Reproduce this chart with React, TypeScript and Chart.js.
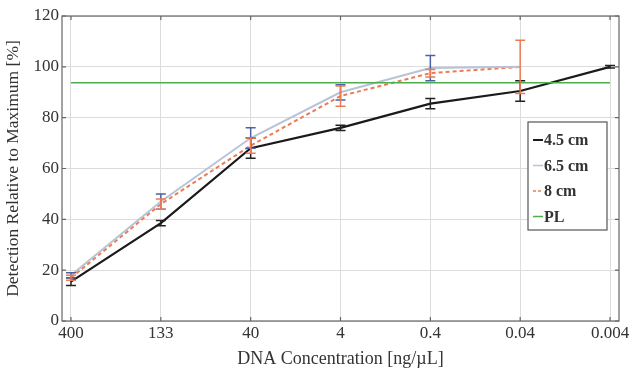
import React, { useEffect, useRef } from "react";
import { Chart, registerables } from "chart.js";

Chart.register(...registerables);

const categories = ["400", "133", "40", "4", "0.4", "0.04", "0.004"];
const s45 = [15.5, 38.5, 68, 76, 85.5, 90.5, 100];
const s45err = [1.5, 1, 4, 1, 2, 4, 0.5];
const s65 = [18, 47, 72, 90, 99.5, 100, null];
const s65err = [1, 3, 4, 3, 5, 0, 0];
const s8 = [17, 46, 69, 88.5, 97.5, 100, null];
const s8err = [1, 2, 3, 4, 1.5, 10.5, 0];
const plValue = 93.7;
const yTicks = [0, 20, 40, 60, 80, 100, 120];

const SERIF = "'Liberation Serif', 'DejaVu Serif', serif";

const toPts = (arr: (number | null)[]) =>
  arr.map((v, i) => ({ x: i, y: v })).filter((p) => p.y !== null);

const errSets = [
  { values: s45, err: s45err, color: "#222222" },
  { values: s65, err: s65err, color: "#4a63a8" },
  { values: s8, err: s8err, color: "#ec7a55" },
];

const errorBarPlugin = {
  id: "errbars",
  afterDatasetsDraw(chart: any) {
    const { ctx, scales } = chart;
    const xs = scales.x, ys = scales.y;
    ctx.save();
    errSets.forEach((s) => {
      ctx.strokeStyle = s.color;
      ctx.lineWidth = 1.5;
      s.values.forEach((v, i) => {
        const e = s.err[i];
        if (v === null || !e) return;
        const px = xs.getPixelForValue(i);
        const top = ys.getPixelForValue(v + e);
        const bot = ys.getPixelForValue(v - e);
        ctx.beginPath();
        ctx.moveTo(px, top); ctx.lineTo(px, bot);
        ctx.moveTo(px - 5, top); ctx.lineTo(px + 5, top);
        ctx.moveTo(px - 5, bot); ctx.lineTo(px + 5, bot);
        ctx.stroke();
      });
    });
    ctx.restore();
  },
};

const legendItems = [
  { label: "4.5 cm", color: "#1a1a1a", dash: [] as number[], width: 2 },
  { label: "6.5 cm", color: "#b9c3d6", dash: [] as number[], width: 1.5 },
  { label: "8 cm", color: "#ec7a55", dash: [3, 2], width: 1.5 },
  { label: "PL", color: "#4caf4c", dash: [] as number[], width: 1.5 },
];

const boxPlugin = {
  id: "boxlegend",
  afterDraw(chart: any) {
    const { ctx, chartArea, scales } = chart;
    const { left, right, top, bottom } = chartArea;
    ctx.save();
    ctx.strokeStyle = "#666666";
    ctx.lineWidth = 1.2;
    ctx.strokeRect(left, top, right - left, bottom - top);
    ctx.beginPath();
    yTicks.forEach((t) => {
      const py = scales.y.getPixelForValue(t);
      ctx.moveTo(left, py); ctx.lineTo(left + 4, py);
      ctx.moveTo(right, py); ctx.lineTo(right - 4, py);
    });
    categories.forEach((_, i) => {
      const px = scales.x.getPixelForValue(i);
      ctx.moveTo(px, bottom); ctx.lineTo(px, bottom - 4);
      ctx.moveTo(px, top); ctx.lineTo(px, top + 4);
    });
    ctx.stroke();
    const bx = 528, by = 122, bw = 79, bh = 108;
    ctx.fillStyle = "#ffffff";
    ctx.fillRect(bx, by, bw, bh);
    ctx.strokeStyle = "#555555";
    ctx.lineWidth = 1.2;
    ctx.strokeRect(bx, by, bw, bh);
    ctx.font = `bold 16px ${SERIF}`;
    ctx.textBaseline = "middle";
    ctx.textAlign = "left";
    legendItems.forEach((it, i) => {
      const cy = by + 18 + i * 25.5;
      ctx.strokeStyle = it.color;
      ctx.lineWidth = it.width;
      ctx.setLineDash(it.dash);
      ctx.beginPath();
      ctx.moveTo(bx + 5, cy);
      ctx.lineTo(bx + 15, cy);
      ctx.stroke();
      ctx.setLineDash([]);
      ctx.fillStyle = "#333333";
      ctx.fillText(it.label, bx + 16, cy + 1);
    });
    ctx.restore();
  },
};

export default function App() {
  const ref = useRef<HTMLCanvasElement>(null);
  useEffect(() => {
    document.body.style.margin = "0";
    const chart = new Chart(ref.current!, {
      type: "line",
      data: {
        datasets: [
          {
            label: "PL",
            data: [{ x: 0, y: plValue }, { x: 6, y: plValue }],
            borderColor: "#4caf4c",
            borderWidth: 1.5,
            pointRadius: 0,
          },
          {
            label: "6.5 cm",
            data: toPts(s65),
            borderColor: "#b9c3d6",
            borderWidth: 2,
            pointRadius: 0,
          },
          {
            label: "8 cm",
            data: toPts(s8),
            borderColor: "#ec7a55",
            borderWidth: 2,
            borderDash: [4, 3],
            pointRadius: 0,
          },
          {
            label: "4.5 cm",
            data: toPts(s45),
            borderColor: "#1a1a1a",
            borderWidth: 2.2,
            pointRadius: 0,
          },
        ],
      },
      options: {
        animation: false,
        responsive: false,
        layout: { padding: { top: 16, right: 14, left: 0, bottom: 0 } },
        plugins: { legend: { display: false }, tooltip: { enabled: false } },
        scales: {
          x: {
            type: "linear",
            min: -0.1,
            max: 6.1,
            afterBuildTicks: (s: any) => {
              s.ticks = categories.map((_, i) => ({ value: i }));
            },
            afterFit: (s: any) => { s.height = 52; },
            ticks: {
              callback: (v: any) => categories[v as number] ?? "",
              color: "#333333",
              font: { family: SERIF, size: 17 },
              padding: 2,
              maxRotation: 0,
            },
            grid: { color: "#dcdcdc", drawTicks: false },
            border: { display: false },
            title: {
              display: true,
              text: "DNA Concentration [ng/µL]",
              color: "#333333",
              font: { family: SERIF, size: 18 },
              padding: { top: 0, bottom: 3 },
            },
          },
          y: {
            min: 0,
            max: 120,
            afterBuildTicks: (s: any) => {
              s.ticks = yTicks.map((v) => ({ value: v }));
            },
            afterFit: (s: any) => { s.width = 62; },
            ticks: {
              color: "#333333",
              font: { family: SERIF, size: 17 },
              padding: 3,
            },
            grid: { color: "#dcdcdc", drawTicks: false },
            border: { display: false },
            title: {
              display: true,
              text: "Detection Relative to Maximum [%]",
              color: "#333333",
              font: { family: SERIF, size: 17.5 },
              padding: { top: 3, bottom: 0 },
            },
          },
        },
      },
      plugins: [errorBarPlugin, boxPlugin],
    } as any);
    return () => chart.destroy();
  }, []);
  return (
    <div style={{ width: 633, height: 373, background: "#fff" }}>
      <canvas ref={ref} width={633} height={373} />
    </div>
  );
}
